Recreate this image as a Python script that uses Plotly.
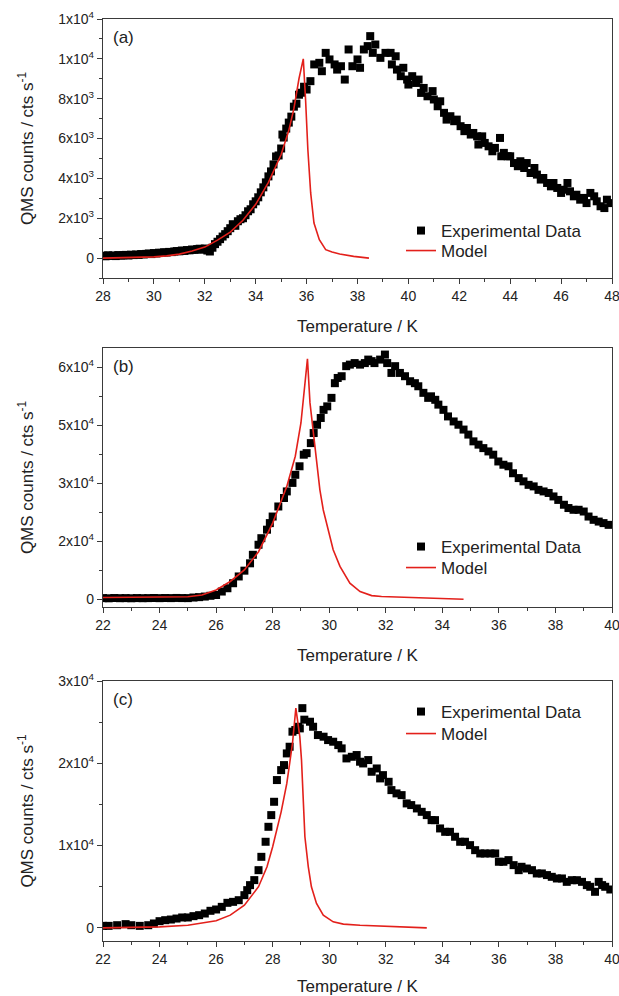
import plotly.graph_objects as go

# ---------------- panel (a) ----------------
a_exp_T = [28.0, 28.1, 28.2, 28.3, 28.4, 28.5, 28.6, 28.7, 28.8, 28.9,
           29.0, 29.1, 29.2, 29.3, 29.4, 29.5, 29.6, 29.7, 29.8, 29.9,
           30.0, 30.1, 30.2, 30.3, 30.4, 30.5, 30.6, 30.7, 30.8, 30.9,
           31.0, 31.1, 31.2, 31.3, 31.4, 31.5, 31.6, 31.7, 31.8, 31.9,
           32.0, 32.1, 32.2, 32.3, 32.4, 32.5, 32.6, 32.7, 32.8, 32.9,
           33.0, 33.1, 33.2, 33.3, 33.4, 33.5, 33.6, 33.7, 33.8, 33.9,
           34.0, 34.1, 34.2, 34.3, 34.4, 34.5, 34.6, 34.7, 34.8, 34.9,
           35.0, 35.05, 35.1, 35.2, 35.3, 35.4, 35.5, 35.6, 35.7, 35.8,
           35.9, 36.0, 36.15, 36.3, 36.5, 36.6, 36.75, 36.9, 37.1, 37.2,
           37.35, 37.5, 37.65, 37.8, 38.0, 38.1, 38.25, 38.4, 38.5, 38.6,
           38.7, 38.9, 39.1, 39.3, 39.35, 39.5, 39.55, 39.7, 39.8, 39.95,
           40.0, 40.15, 40.3, 40.4, 40.5, 40.6, 40.75, 40.95, 41.0, 41.15,
           41.25, 41.4, 41.5, 41.65, 41.8, 41.9, 42.05, 42.2, 42.3, 42.45,
           42.55, 42.7, 42.75, 42.9, 43.0, 43.15, 43.3, 43.4, 43.6, 43.65,
           43.75, 43.9, 44.0, 44.15, 44.3, 44.4, 44.55, 44.65, 44.8, 44.95,
           45.05, 45.2, 45.3, 45.45, 45.6, 45.7, 45.85, 46.0, 46.1, 46.25,
           46.35, 46.5, 46.6, 46.75, 46.9, 47.0, 47.15, 47.3, 47.4, 47.55,
           47.7, 47.8, 47.95]
a_exp_C = [120, 90, 140, 110, 130, 100, 150, 120, 140, 160,
           130, 170, 150, 180, 160, 200, 180, 210, 230, 200,
           250, 230, 270, 260, 290, 280, 310, 300, 330, 350,
           340, 380, 360, 400, 390, 430, 410, 450, 470, 420,
           480, 380, 330, 520, 700, 820, 950, 1080, 1200, 1350,
           1500, 1700, 1620, 1850, 1950, 2000, 2150, 2350, 2450, 2700,
           2850, 3050, 3300, 3550, 3800, 4100, 4350, 4700, 5100, 5150,
           5500, 6200, 6050, 6500, 6800, 7100, 7600, 7750, 8200, 8300,
           8600, 8460, 8880, 9720, 9800, 9380, 10300, 9970, 9720, 9460,
           9630, 8960, 10470, 9630, 9970, 9550, 10470, 10640, 11140, 10300,
           10720, 10050, 10300, 10300, 9720, 10130, 9460, 9130, 9550, 8960,
           8710, 9130, 8790, 8960, 8290, 8540, 8120, 8380, 7960, 7620,
           7870, 7290, 6950, 7120, 6870, 6950, 6620, 6370, 6530, 6200,
           6280, 6110, 5700, 6110, 5780, 5610, 5360, 5530, 6030, 5110,
           5280, 5110, 5110, 4770, 4610, 4860, 4520, 4770, 4270, 4520,
           4190, 3940, 4020, 3770, 3600, 3770, 3520, 3270, 3430, 3770,
           3350, 3100, 3180, 2930, 3020, 2760, 3270, 3100, 2850, 2600,
           2510, 2930, 2760]
a_mod_T = [28.0, 29.0, 30.0, 30.5, 31.0, 31.5, 32.0, 32.5, 33.0, 33.5,
           34.0, 34.5, 35.0, 35.3, 35.5, 35.7, 35.8, 35.87, 35.96, 36.05,
           36.16, 36.29, 36.5, 36.75, 37.0, 37.3, 37.85, 38.45]
a_mod_C = [0, 20, 60, 110, 200, 350, 550, 900, 1300, 1900,
           2700, 3800, 5200, 6400, 7500, 9000, 9700, 10000, 7950, 5440,
           3270, 1760, 920, 420, 300, 200, 85, 0]

# ---------------- panel (b) ----------------
b_exp_T = [22.0, 22.2, 22.4, 22.6, 22.8, 23.0, 23.2, 23.4, 23.6, 23.8,
           24.0, 24.2, 24.4, 24.6, 24.8, 25.0, 25.2, 25.4, 25.6, 25.8,
           26.0, 26.2, 26.4, 26.6, 26.8, 27.0, 27.2, 27.3, 27.5, 27.6,
           27.8, 27.9, 28.0, 28.2, 28.4, 28.5, 28.7, 28.8, 28.95, 29.1,
           29.2, 29.35, 29.45, 29.57, 29.7, 29.8, 29.93, 30.08, 30.2, 30.3,
           30.44, 30.6, 30.73, 30.9, 31.09, 31.26, 31.38, 31.5, 31.6, 31.8,
           31.97, 32.05, 32.2, 32.33, 32.5, 32.68, 32.86, 33.03, 33.15, 33.33,
           33.5, 33.6, 33.75, 33.86, 34.04, 34.2, 34.4, 34.57, 34.75, 34.92,
           35.1, 35.28, 35.45, 35.63, 35.8, 35.98, 36.16, 36.34, 36.5, 36.7,
           36.87, 37.05, 37.23, 37.4, 37.58, 37.76, 37.93, 38.1, 38.3, 38.46,
           38.64, 38.82, 39.0, 39.17, 39.35, 39.53, 39.7, 39.88]
b_exp_C = [300, 250, 320, 280, 300, 260, 310, 280, 300, 330,
           290, 320, 300, 340, 310, 300, 450, 550, 700, 900,
           1100, 2000, 2850, 4150, 5900, 7400, 9300, 11500, 14100, 15800,
           18000, 19700, 21400, 24000, 26200, 27900, 30100, 32200, 34400, 37400,
           37800, 40400, 43000, 45150, 46900, 49000, 49900, 52100, 55900, 57250,
           57700, 60300, 60700, 61100, 60700, 61100, 62000, 61600, 61100, 62000,
           63300, 61100, 58550, 60300, 58550, 57700, 56400, 55900, 55100, 53400,
           52100, 52500, 51600, 50350, 49000, 47300, 46000, 45150, 43900, 42600,
           40850, 40000, 39100, 38250, 37400, 35650, 34800, 34400, 32600, 31350,
           30500, 29600, 29200, 28300, 27900, 27500, 26600, 25700, 24450, 23600,
           23150, 23150, 22700, 21400, 20550, 20100, 19700, 19250]
b_mod_T = [22.0, 23.0, 24.0, 25.0, 25.5, 26.0, 26.5, 27.0, 27.5, 28.0,
           28.5, 28.8, 29.0, 29.23, 29.32, 29.43, 29.55, 29.67, 29.79, 29.96,
           30.14, 30.38, 30.73, 31.09, 31.5, 31.85, 32.5, 33.68, 34.75]
b_mod_C = [450, 460, 500, 650, 1100, 2400, 4600, 7600, 12300, 19700,
           29200, 37000, 45600, 62200, 50800, 43900, 35200, 28300, 23100, 18000,
           12800, 8500, 4150, 2000, 950, 700, 520, 170, 0]

# ---------------- panel (c) ----------------
c_exp_T = [22.0, 22.2, 22.5, 22.8, 23.0, 23.3, 23.6, 23.8, 24.0, 24.2,
           24.4, 24.6, 24.8, 25.0, 25.2, 25.4, 25.6, 25.8, 26.0, 26.2,
           26.4, 26.6, 26.8, 27.0, 27.1, 27.2, 27.35, 27.5, 27.6, 27.75,
           27.85, 27.95, 28.05, 28.15, 28.3, 28.4, 28.5, 28.6, 28.7, 28.8,
           28.9, 28.96, 29.05, 29.12, 29.32, 29.43, 29.6, 29.8, 29.96, 30.14,
           30.32, 30.44, 30.61, 30.8, 30.97, 31.09, 31.2, 31.38, 31.5, 31.68,
           31.8, 31.9, 32.1, 32.2, 32.38, 32.56, 32.74, 32.9, 33.1, 33.27,
           33.45, 33.62, 33.74, 33.92, 34.1, 34.27, 34.45, 34.63, 34.8, 34.98,
           35.16, 35.34, 35.5, 35.7, 35.87, 36.0, 36.16, 36.34, 36.52, 36.7,
           36.8, 36.99, 37.17, 37.34, 37.52, 37.7, 37.87, 38.05, 38.23, 38.4,
           38.58, 38.76, 38.94, 39.11, 39.23, 39.4, 39.53, 39.65, 39.76, 39.94]
c_exp_C = [240, 240, 320, 450, 320, 240, 320, 530, 810, 930,
           1010, 1130, 1260, 1260, 1420, 1540, 1740, 2070, 2230, 2550,
           3040, 3160, 3360, 3970, 4580, 5190, 5800, 7010, 8630, 10460,
           12280, 13700, 15320, 17960, 19170, 19780, 21200, 22010, 23840, 24040,
           24440, 24240, 26700, 25300, 25050, 24440, 23430, 23230, 22820, 22620,
           22210, 21810, 20590, 20790, 21000, 20190, 19980, 20390, 18970, 19370,
           18160, 18560, 17750, 16740, 16340, 16130, 15120, 14920, 14510, 14100,
           13700, 13090, 13090, 12080, 11670, 11670, 11070, 10460, 10460, 10050,
           9440, 9040, 9040, 9040, 9040, 8030, 8030, 8230, 7620, 7010,
           7420, 7210, 7010, 6610, 6610, 6410, 6200, 6000, 6000, 5590,
           5790, 5790, 5590, 5190, 4990, 4380, 5590, 5190, 4990, 4660]
c_mod_T = [22.0, 23.0, 24.0, 25.0, 26.0, 26.5, 27.0, 27.5, 27.8, 28.0,
           28.3, 28.5, 28.7, 28.82, 28.96, 29.02, 29.08, 29.14, 29.26, 29.37,
           29.55, 29.79, 30.14, 30.5, 31.09, 32.03, 33.45]
c_mod_C = [0, 50, 120, 320, 850, 1540, 2750, 5000, 7420, 9850,
           14100, 17550, 22400, 26700, 23230, 20390, 15120, 11070, 7420, 4990,
           2960, 1540, 730, 450, 320, 200, 0]

# ---------------- axis tick labels ----------------
a_xvals = [28, 30, 32, 34, 36, 38, 40, 42, 44, 46, 48]
bc_xvals = [22, 24, 26, 28, 30, 32, 34, 36, 38, 40]
a_yvals = [0, 2000, 4000, 6000, 8000, 10000, 12000]
a_ytext = ["0", "2x10<sup>3</sup>", "4x10<sup>3</sup>", "6x10<sup>3</sup>",
           "8x10<sup>3</sup>", "1x10<sup>4</sup>", "1x10<sup>4</sup>"]
b_yvals = [0, 15000, 30000, 45000, 60000]
b_ytext = ["0", "2x10<sup>4</sup>", "3x10<sup>4</sup>", "5x10<sup>4</sup>", "6x10<sup>4</sup>"]
c_yvals = [0, 10000, 20000, 30000]
c_ytext = ["0", "1x10<sup>4</sup>", "2x10<sup>4</sup>", "3x10<sup>4</sup>"]

panel_labels = ["(a)", "(b)", "(c)"]
x_title = "Temperature / K"
y_title = "QMS counts / cts s<sup>-1</sup>"
exp_name = "Experimental Data"
mod_name = "Model"

W, H = 619, 996
FONT = "Liberation Sans, Arial, sans-serif"
AX = "#3a3a3a"
TXT = "#222"
RED = "#e3201b"

# pixel geometry of the three frames
left_px, right_px = 103, 612
frames = [(19, 278), (348, 607), (681, 941)]
legend_rows = [(231, 251), (547, 568), (712, 734)]

fig = go.Figure()

panels = [
    (a_exp_T, a_exp_C, a_mod_T, a_mod_C, [28, 48], a_xvals, [-1000, 12000], a_yvals, a_ytext, 1000),
    (b_exp_T, b_exp_C, b_mod_T, b_mod_C, [22, 40], bc_xvals, [-2000, 65000], b_yvals, b_ytext, 7500),
    (c_exp_T, c_exp_C, c_mod_T, c_mod_C, [22, 40], bc_xvals, [-1600, 30000], c_yvals, c_ytext, 5000),
]

text_x = 443
for i, (eT, eC, mT, mC, xr, xv, yr, yv, yt, ymin) in enumerate(panels):
    n = i + 1
    xa = "x" if n == 1 else f"x{n}"
    ya = "y" if n == 1 else f"y{n}"
    lg_e = f"legend{2 * i + 1}" if i > 0 else "legend"
    lg_m = f"legend{2 * i + 2}"
    fig.add_trace(go.Scatter(
        x=eT, y=eC, mode="markers", name=exp_name, xaxis=xa, yaxis=ya,
        marker=dict(symbol="square", size=8, color="black"),
        legend=lg_e))
    fig.add_trace(go.Scatter(
        x=mT, y=mC, mode="lines", name=mod_name, xaxis=xa, yaxis=ya,
        line=dict(color=RED, width=1.6), legend=lg_m))

    top, bot = frames[i]
    ydom = [1 - bot / H, 1 - top / H]
    xdom = [left_px / W, right_px / W]
    common = dict(showline=True, mirror=True, linecolor=AX, linewidth=1.3,
                  ticks="outside", ticklen=5, tickwidth=1.3, tickcolor=AX,
                  showgrid=False, zeroline=False, ticklabeloverflow="allow",
                  automargin=False,
                  tickfont=dict(family=FONT, size=14, color=TXT))
    xkey = "xaxis" if n == 1 else f"xaxis{n}"
    ykey = "yaxis" if n == 1 else f"yaxis{n}"
    fig.update_layout({
        xkey: dict(common, domain=xdom, range=xr, anchor=ya,
                   tickmode="array", tickvals=xv,
                   minor=dict(ticks="outside", ticklen=3, dtick=1, tick0=0,
                              tickcolor=AX, tickwidth=1.3),
                   title=dict(text=x_title, standoff=17,
                              font=dict(family=FONT, size=17, color=TXT))),
        ykey: dict(common, domain=ydom, range=yr, anchor=xa,
                   tickmode="array", tickvals=yv, ticktext=yt,
                   minor=dict(ticks="outside", ticklen=3, dtick=ymin, tick0=0,
                              tickcolor=AX, tickwidth=1.3),
                   title=dict(text=y_title, standoff=20,
                              font=dict(family=FONT, size=17, color=TXT))),
    })

    # panel letter
    fig.add_annotation(x=(left_px + 8) / W, y=1 - (top + 18) / H, xref="paper", yref="paper",
                       text=panel_labels[i], showarrow=False, xanchor="left", yanchor="middle",
                       font=dict(family=FONT, size=17, color=TXT))

    # one legend box per entry so both rows sit where wanted
    r1, r2 = legend_rows[i]
    leg_style = dict(x=(text_x - 42) / W, xanchor="left", yanchor="middle",
                     bgcolor="rgba(0,0,0,0)", borderwidth=0,
                     font=dict(family=FONT, size=17, color=TXT))
    fig.update_layout({lg_e: dict(leg_style, y=1 - r1 / H),
                       lg_m: dict(leg_style, y=1 - r2 / H)})

fig.update_layout(width=W, height=H, margin=dict(l=0, r=0, t=0, b=0, autoexpand=False),
                  paper_bgcolor="white", plot_bgcolor="white", showlegend=True)

fig.write_html("out.html")
